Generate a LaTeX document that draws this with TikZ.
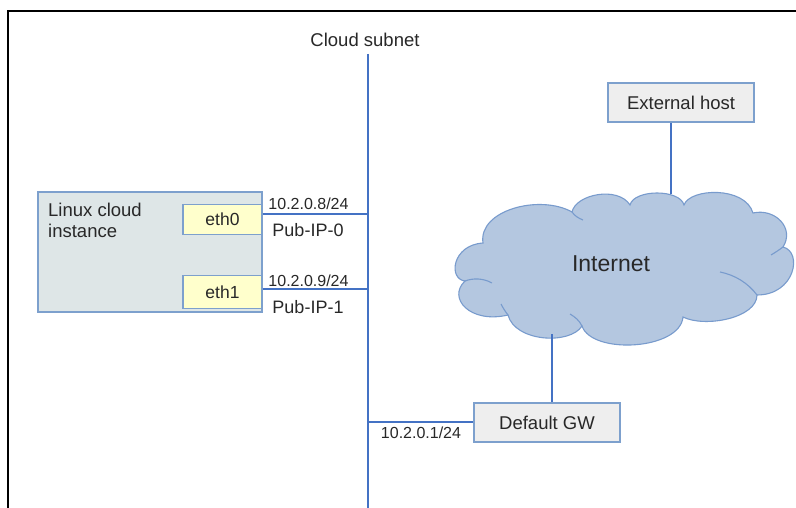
\documentclass[tikz,border=0pt]{standalone}
\usepackage{fontspec}
\setmainfont{Liberation Sans}
\definecolor{wire}{RGB}{68,114,196}
\definecolor{boxedge}{RGB}{125,160,205}
\definecolor{boxfill}{RGB}{238,238,238}
\definecolor{vmfill}{RGB}{222,230,231}
\definecolor{ethfill}{RGB}{255,255,204}
\definecolor{cloudfill}{RGB}{180,199,224}
\definecolor{cloudedge}{RGB}{120,155,205}
\definecolor{txt}{RGB}{40,40,40}
\begin{document}
\begin{tikzpicture}[x=1pt,y=-1pt,
  every node/.style={text=txt},
  link/.style={draw=wire,line width=2.8pt},
  plainbox/.style={draw=boxedge,fill=boxfill,line width=1.3pt,inner sep=0pt,
    font=\fontsize{18.5}{22}\selectfont},
  ethbox/.style={draw=boxedge,fill=ethfill,line width=1.3pt,inner sep=0pt,
    minimum width=79pt,minimum height=30pt,font=\fontsize{17.5}{20}\selectfont},
  iplabel/.style={inner sep=0pt,font=\fontsize{16}{18}\selectfont},
  publabel/.style={inner sep=0pt,font=\fontsize{18}{20}\selectfont},
  ]
\useasboundingbox (0,0) rectangle (796,508);
\fill[white] (0,0) rectangle (796,508);
% frame
\draw[black,line width=2pt] (8,508) -- (8,11) -- (796,11);

% cloud
\begin{scope}[draw=cloudedge,line width=1.1pt]
\filldraw[fill=cloudfill]
  (465,281) .. controls (448,279) and (452,245) .. (483,243)
  .. controls (478,210) and (540,194) .. (572,212)
  .. controls (576,194) and (618,186) .. (630,205)
  .. controls (634,189) and (680,189) .. (684,205)
  .. controls (690,188) and (745,186) .. (753,213)
  .. controls (775,208) and (795,228) .. (783,247)
  .. controls (803,252) and (795,295) .. (757,295)
  .. controls (757,318) and (705,328) .. (683,317)
  .. controls (680,350) and (592,355) .. (582,326)
  .. controls (570,345) and (515,342) .. (508,315)
  .. controls (470,324) and (447,298) .. (465,281) -- cycle;
\draw (465,281) .. controls (473,278) and (483,278) .. (492,283);
\draw (572,212) .. controls (575,216) and (578,218) .. (583,220);
\draw (783,247) .. controls (779,250) and (776,252) .. (771,255);
\draw (757,295) .. controls (748,283) and (735,275) .. (720,272);
\draw (582,326) .. controls (579,320) and (575,317) .. (570,314);
\draw (508,315) .. controls (505,311) and (503,308) .. (501,304);
\end{scope}
\node[inner sep=0pt,font=\fontsize{23}{26}\selectfont] (inet) at (611,264) {Internet};
\coordinate (cloudtop) at (671,194);
\coordinate (cloudbot) at (552,334);

% subnet
\node[inner sep=0pt,font=\fontsize{18.5}{22}\selectfont] (subnetlbl) at (365,40) {Cloud subnet};
\coordinate (stop) at (368,54);
\coordinate (sbot) at (368,508);
\draw[link] (stop) -- (sbot);
\coordinate (s0) at (368,214);
\coordinate (s1) at (368,289);
\coordinate (sg) at (368,422);

% linux instance
\node[draw=boxedge,fill=vmfill,line width=1.3pt,minimum width=224pt,minimum height=120pt,inner sep=0pt] (vm) at (150,252) {};
\node[anchor=north west,align=left,inner sep=0pt,font=\fontsize{18.5}{21}\selectfont] (vmlbl) at (48,203) {Linux cloud\\instance};
\node[ethbox] (eth0) at (222.5,219.5) {eth0};
\node[ethbox,minimum height=33pt] (eth1) at (222.5,292) {eth1};
\draw[link] (eth0.east |- s0) -- (s0);
\draw[link] (eth1.east |- s1) -- (s1);
\node[iplabel] (ip0) at (308.5,204) {10.2.0.8/24};
\node[publabel] (pub0) at (308,230) {Pub-IP-0};
\node[iplabel] (ip1) at (308.5,281) {10.2.0.9/24};
\node[publabel] (pub1) at (308,307.5) {Pub-IP-1};

% gateway
\node[plainbox,minimum width=146pt,minimum height=39pt] (gw) at (547,422.5) {Default GW};
\draw[link] (sg) -- (gw.west |- sg);
\node[iplabel] (ipg) at (421,433) {10.2.0.1/24};
\draw[link] (cloudbot) -- (cloudbot |- gw.north);

% external host
\node[plainbox,minimum width=146pt,minimum height=39pt] (ext) at (681,102.5) {External host};
\draw[link] (cloudtop |- ext.south) -- (cloudtop);
\end{tikzpicture}
\end{document}
